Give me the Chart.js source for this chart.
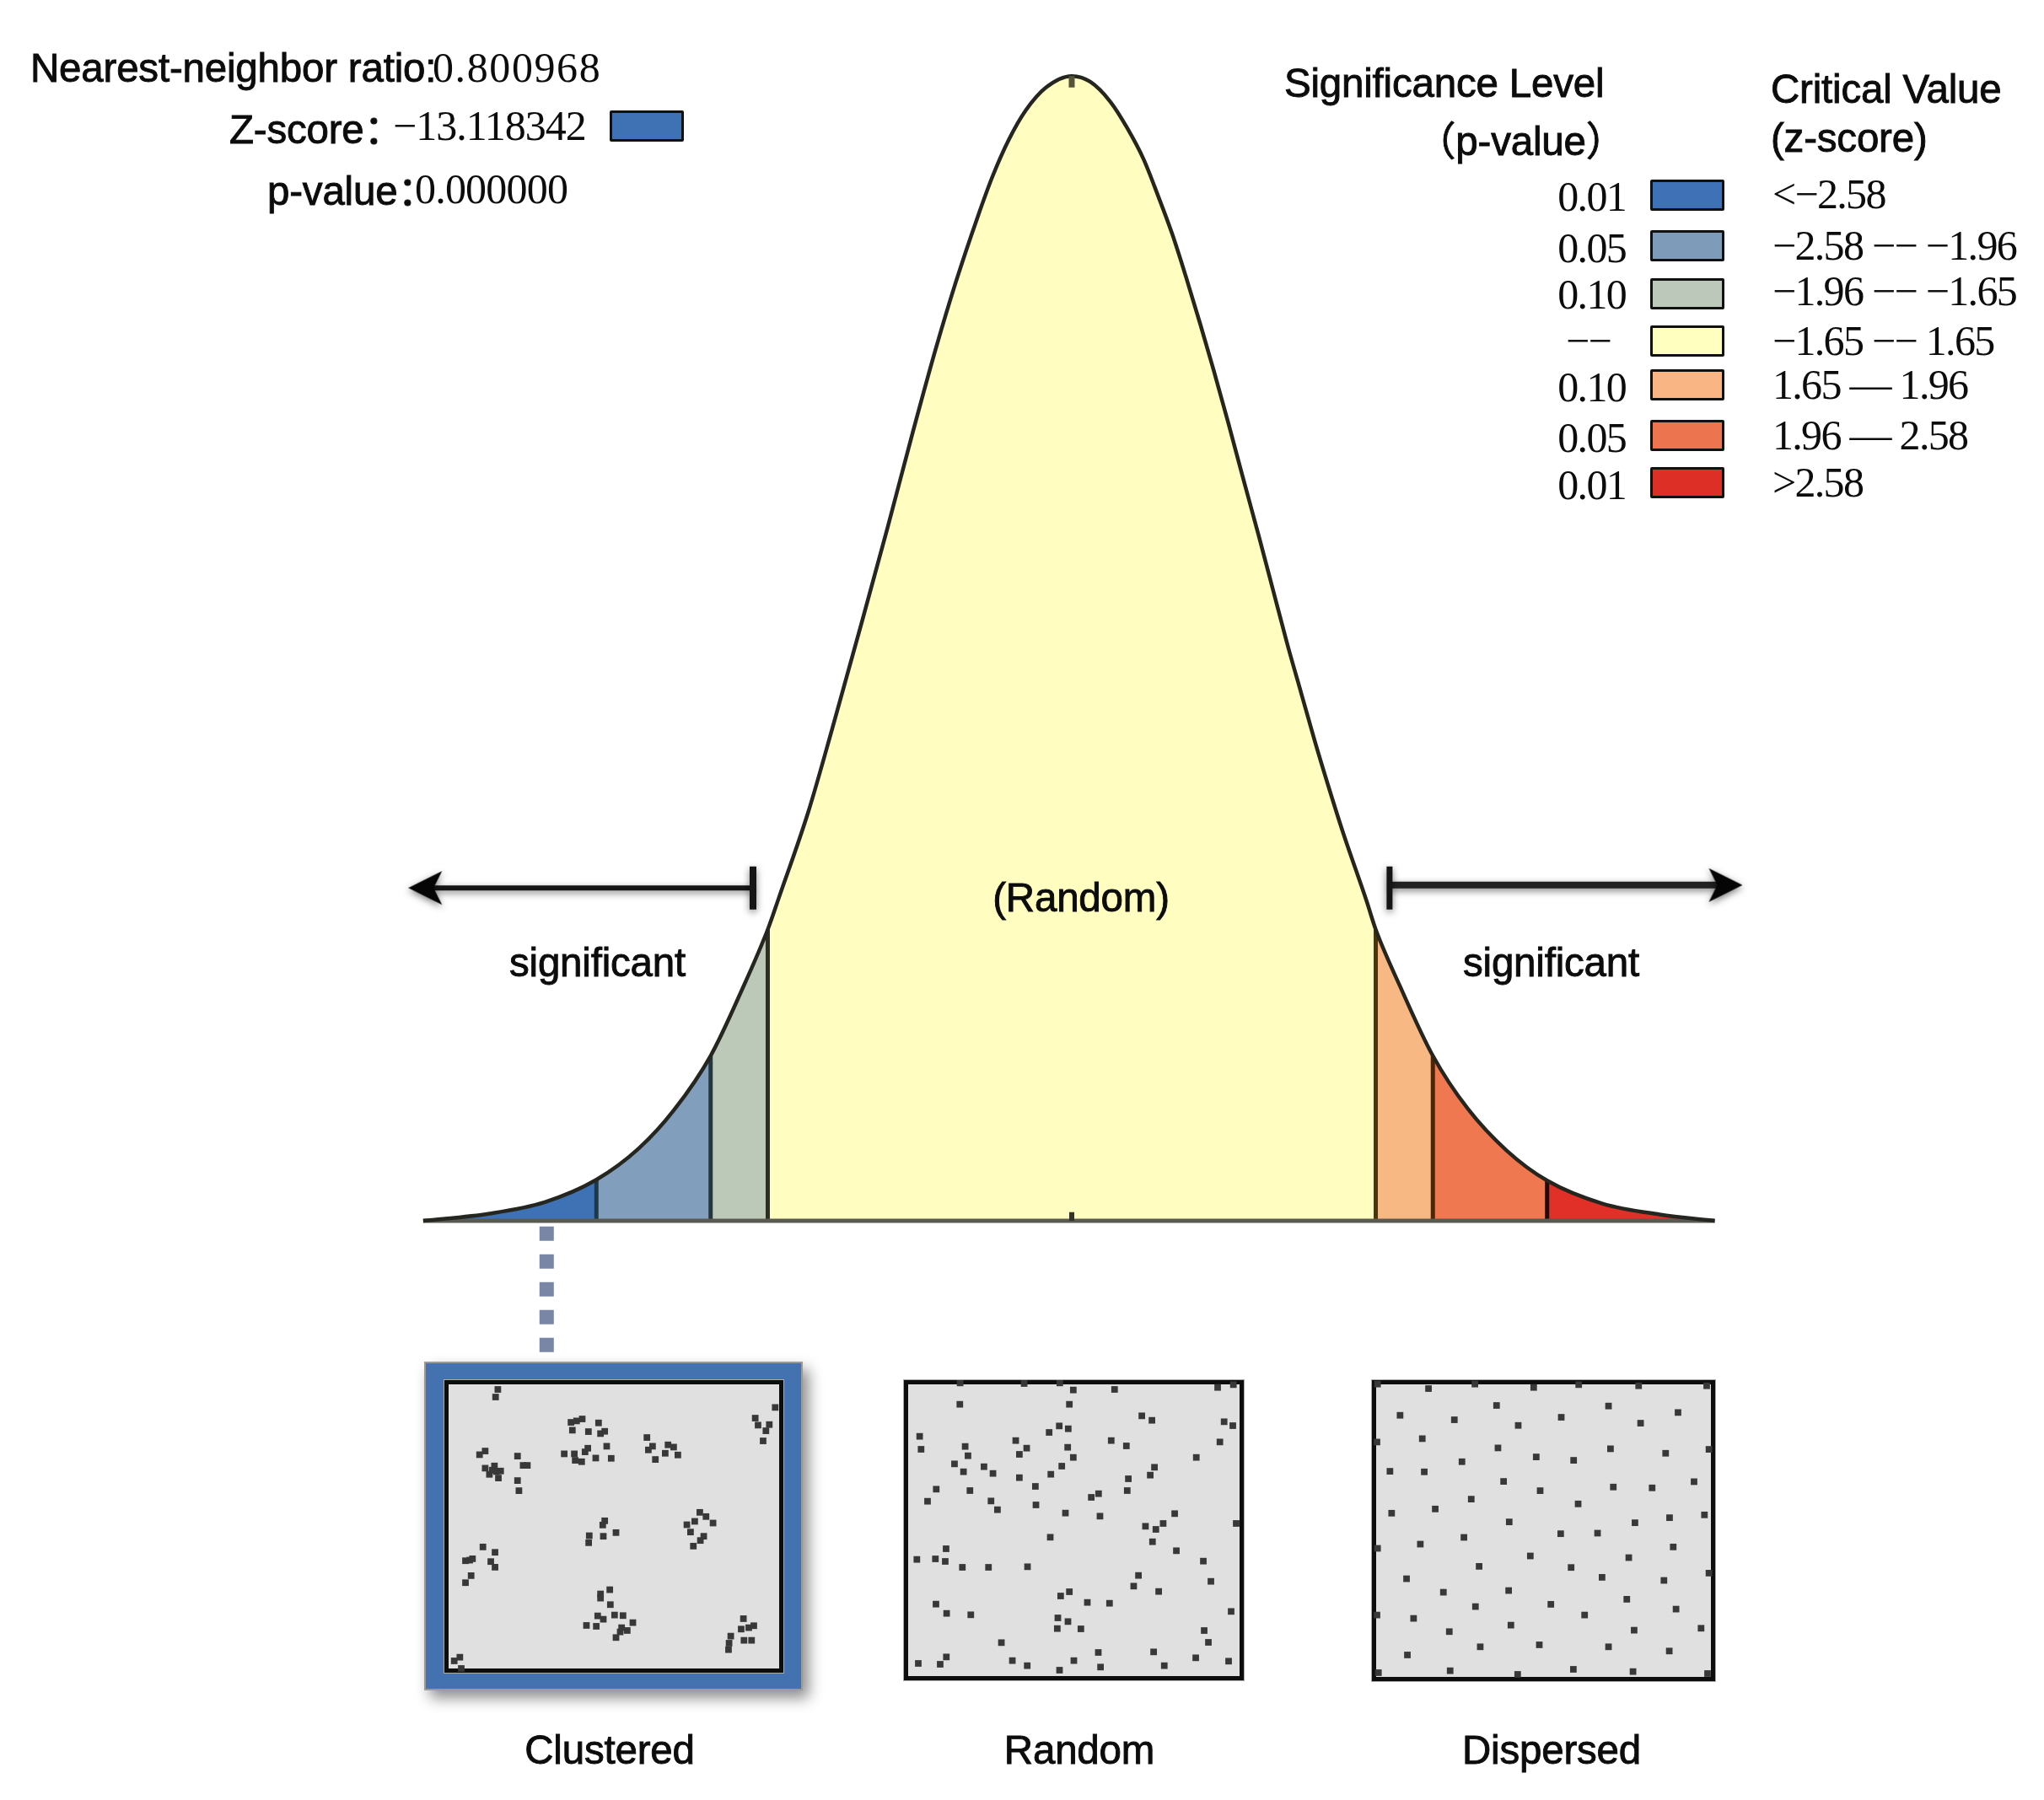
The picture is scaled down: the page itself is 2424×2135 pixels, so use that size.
<!DOCTYPE html>
<html>
<head>
<meta charset="utf-8">
<title>Average nearest neighbor</title>
<script src="https://cdn.jsdelivr.net/npm/chart.js@4.4.1/dist/chart.umd.min.js"></script>
<style>
  html, body { margin: 0; background: #fff; }
  #page { position: relative; width: 2424px; height: 2135px; overflow: hidden; }
  #page > canvas, .frame, .panelCanvas { position: absolute; }
  .t { position: absolute; white-space: nowrap; transform: translateY(-50%); color: #0c0c0c; line-height: 1; }
  .sans { font: 47.5px "Liberation Sans", "Noto Sans CJK SC", sans-serif; -webkit-text-stroke: .9px #0c0c0c; letter-spacing: -.2px; }
  .serif { font: 50px "Liberation Serif", serif; letter-spacing: -1.7px; }
  .center { transform: translate(-50%, -50%); }
  .right { transform: translate(-100%, -50%); }
  .swatch { position: absolute; box-sizing: border-box; border: 3.5px solid #111; width: 88px; height: 37px; border-radius: 2px; }
  .frame { box-sizing: border-box; background: #e0e0e0; border: 5px solid #0d0d0d; outline: 1.5px solid #aaa; filter: blur(.5px); }
  .panelCanvas { filter: blur(.7px); }
  #clusterBox { position: absolute; left: 503px; top: 1615px; width: 449px; height: 390px; box-sizing: border-box;
    background: #4472b0; border: 2px solid #9a9a9a; box-shadow: 7px 9px 16px rgba(0,0,0,.45); }
</style>
</head>
<body>
<div id="page">
  <canvas id="curveChart" width="2424" height="2135" style="left:0;top:0"></canvas>

  <div class="t sans" style="left:36px;top:80px">Nearest-neighbor ratio:</div>
  <div class="t serif" style="left:513px;top:80px;letter-spacing:1.6px">0.800968</div>
  <div class="t sans" style="left:272px;top:149px">Z-score：</div>
  <div class="t serif" style="left:466px;top:149px;letter-spacing:-1px">−13.118342</div>
  <div class="swatch" style="left:723px;top:131px;background:#3f72b5"></div>
  <div class="t sans" style="left:317px;top:222px">p-value：</div>
  <div class="t serif" style="left:492px;top:224px;letter-spacing:-.8px">0.000000</div>

  <div class="t sans" style="left:1523px;top:98px">Significance Level</div>
  <div class="t sans right" style="left:1928px;top:163px">（p-value）</div>
  <div class="t sans" style="left:2100px;top:105px">Critical Value</div>
  <div class="t sans" style="left:2100px;top:163px">(z-score)</div>

  <div class="t sans center" style="left:1282px;top:1064px">(Random)</div>
  <div class="t sans" style="left:604px;top:1141px">significant</div>
  <div class="t sans" style="left:1735px;top:1141px">significant</div>

  <div id="clusterBox"></div>
  <div class="frame" style="left:527px;top:1637px;width:402px;height:347px"></div>
  <canvas class="panelCanvas" id="clusteredChart" width="402" height="347" style="left:527px;top:1637px"></canvas>
  <div class="frame" style="left:1072px;top:1637px;width:403px;height:356px"></div>
  <canvas class="panelCanvas" id="randomChart" width="403" height="356" style="left:1072px;top:1637px"></canvas>
  <div class="frame" style="left:1627px;top:1637px;width:407px;height:357px"></div>
  <canvas class="panelCanvas" id="dispersedChart" width="407" height="357" style="left:1627px;top:1637px"></canvas>

  <div class="t sans center" style="left:723px;top:2075px">Clustered</div>
  <div class="t sans center" style="left:1280px;top:2075px">Random</div>
  <div class="t sans center" style="left:1840px;top:2075px">Dispersed</div>
</div>

<script>
// Curve: z-score and height in density units
var curveZ = [-3.52, -3.16, -2.86, -2.58, -2.35, -2.16, -1.96, -1.79, -1.65, -1.59, -1.43, -1.30, -1.14, -1.00, -0.86, -0.74,
  -0.63, -0.51, -0.43, -0.34, -0.25, -0.14, 0, 0.10, 0.21, 0.30, 0.39, 0.47, 0.545, 0.62, 0.70, 0.77, 0.85, 0.925, 1.016,
  1.094, 1.17, 1.245, 1.32, 1.40, 1.474, 1.60, 1.65, 1.78, 1.96, 2.15, 2.36, 2.58, 2.88, 3.19, 3.49];
var curveDensity = [0, 0.0025, 0.0065, 0.0143, 0.0252, 0.0385, 0.0575, 0.0805, 0.1015, 0.1125, 0.1425, 0.1715, 0.2085, 0.2415, 0.2755, 0.3035,
  0.3270, 0.3500, 0.3640, 0.3770, 0.3870, 0.3950, 0.3990, 0.3970, 0.3900, 0.3810, 0.3700, 0.3570, 0.3440, 0.3290, 0.3120, 0.2965, 0.2780, 0.2600, 0.2385,
  0.2195, 0.2010, 0.1840, 0.1670, 0.1500, 0.1350, 0.1115, 0.1015, 0.0820, 0.0575, 0.0390, 0.0245, 0.0140, 0.0060, 0.0022, 0];

// Critical z-scores and the bands between them
var bandEdges = [-3.52, -2.58, -1.96, -1.65, 1.65, 1.96, 2.58, 3.49];
var bandColors = ['#3f72b5', '#829ebd', '#bcc9b9', '#fffdbf', '#f7b883', '#ef7850', '#e03028'];
var edgeColors = ['#1d3a44', '#25363d', '#2b2f20', '#4a3410', '#4a2608', '#260806'];

// Legend
var pValueLabels = ['0.01', '0.05', '0.10', '−−', '0.10', '0.05', '0.01'];
var zScoreLabels = ['<−2.58', '−2.58 −− −1.96', '−1.96 −− −1.65', '−1.65 −− 1.65', '1.65 — 1.96', '1.96 — 2.58', '>2.58'];
var legendColors = ['#3e71b5', '#7f9bba', '#bcc8ba', '#ffffc0', '#f9b584', '#ec744f', '#de2f27'];

// Arrows either side of the curve
var leftArrowZ = [-3.50, -1.73];
var rightArrowZ = [1.725, 3.54];
var leftArrowY = 0.116;
var rightArrowY = 0.117;

// Dots of the three pattern panels
var clusteredDots = [[330,143],[322,170],[590,260],[610,255],[630,248],[595,288],[688,262],[652,293],[695,300],[710,292],
  [1316,207],[1245,245],[1255,270],[1295,268],[1283,290],[1273,326],[860,314],[880,345],[865,358],[890,392],[935,340],[955,348],[925,370],[970,376],
  [717,345],[650,352],[640,365],[566,372],[602,372],[605,395],[628,400],[678,387],[733,388],[265,375],[285,362],[400,380],[420,413],[435,413],
  [285,423],[300,445],[318,415],[325,435],[340,433],[332,458],[310,430],[400,467],[405,503],[710,610],[703,625],[750,652],[705,665],[655,663],[653,688],
  [1048,580],[1070,595],[1095,618],[1030,612],[1002,624],[1015,650],[1062,665],[1050,680],[1025,700],[277,703],[320,722],[240,745],[215,752],[230,750],
  [305,755],[320,775],[235,805],[215,830],[728,855],[695,870],[695,885],[730,908],[685,948],[705,960],[745,945],[775,947],[645,982],[680,985],[810,972],
  [770,990],[790,1000],[765,1005],[750,1025],[1203,958],[1240,983],[1222,990],[1195,995],[1158,1020],[1205,1035],[1232,1035],[1152,1045],[1150,1068],
  [195,1095],[175,1108],[200,1135]];
var randomDots = [[265,62],[493,64],[620,62],[668,87],[815,85],[1182,78],[1238,68],[264,138],[654,138],[912,179],[948,195],[1205,200],[1236,214],
  [121,252],[126,298],[283,288],[293,321],[245,350],[277,378],[350,360],[382,384],[463,267],[502,294],[476,316],[582,238],[618,215],[650,225],[648,291],
  [668,327],[627,358],[588,387],[476,399],[533,430],[803,267],[857,286],[1190,272],[1106,327],[957,362],[942,390],[864,403],[860,445],[758,456],[732,469],
  [180,440],[300,445],[149,483],[375,482],[398,513],[535,496],[640,525],[763,536],[1029,527],[1248,562],[988,562],[962,583],[925,572],[950,627],[586,611],
  [1035,659],[1131,696],[215,652],[111,690],[177,688],[212,697],[273,718],[366,718],[505,716],[900,747],[883,785],[1158,768],[972,804],[654,805],[623,820],
  [718,843],[797,846],[179,849],[217,882],[303,887],[1230,875],[613,898],[649,911],[611,936],[695,937],[1134,943],[1149,985],[412,986],[954,1019],[757,1021],
  [216,1037],[116,1060],[194,1063],[451,1050],[670,1050],[504,1068],[765,1073],[992,1068],[1104,1040],[1221,1052],[619,1084]];
var dispersedDots = [[42,66],[223,82],[388,66],[597,78],[757,68],[970,72],[1212,72],[465,142],[863,144],[1110,167],[122,177],[315,193],[542,213],[695,184],[977,205],
  [201,260],[40,272],[470,293],[870,296],[1066,312],[1220,298],[606,325],[739,337],[342,342],[86,376],[208,378],[490,412],[620,445],[880,432],[1018,435],[1167,413],
  [375,475],[247,510],[92,525],[755,492],[510,556],[957,559],[1080,541],[1204,531],[693,598],[824,596],[349,611],[194,635],[42,650],[1093,645],[585,677],[935,683],
  [403,714],[730,718],[145,758],[840,753],[1060,764],[1220,738],[276,806],[508,800],[928,831],[390,857],[658,849],[778,887],[1103,866],[170,899],[40,887],[516,923],
  [297,946],[954,941],[1192,934],[148,1029],[407,1000],[617,993],[863,1000],[1079,1015],[45,1092],[300,1085],[540,1098],[738,1080],[950,1088],[1215,1095]];

(function () {
    var page = document.getElementById('page');

    // Legend rows, one vertical position per row
    var swatchTops = [213, 273, 330, 386, 438, 498, 554];
    var pValueMiddles = [233, 294, 349, 404, 459, 519, 575];
    var zScoreMiddles = [230, 291, 345, 404, 456, 516, 572];
    pValueLabels.forEach(function (label, i) {
        var left = document.createElement('div');
        left.className = 't serif right';
        left.style.left = (i === 3 ? 1910 : 1928) + 'px';
        left.style.top = pValueMiddles[i] + 'px';
        left.textContent = label;
        page.appendChild(left);

        var box = document.createElement('div');
        box.className = 'swatch';
        box.style.left = '1957px';
        box.style.top = swatchTops[i] + 'px';
        box.style.background = legendColors[i];
        page.appendChild(box);

        var right = document.createElement('div');
        right.className = 't serif';
        right.style.left = '2102px';
        right.style.top = zScoreMiddles[i] + 'px';
        right.textContent = zScoreLabels[i];
        page.appendChild(right);
    });

    // Barbed arrow head used as point image
    var head = document.createElement('canvas');
    head.width = 44;
    head.height = 44;
    var hc = head.getContext('2d');
    hc.fillStyle = '#050505';
    hc.beginPath();
    hc.moveTo(44, 22);
    hc.lineTo(4, 2);
    hc.lineTo(14, 22);
    hc.lineTo(4, 42);
    hc.closePath();
    hc.fill();

    // Soft shadow under the arrows
    var shadowPlugin = {
        id: 'arrowShadow',
        beforeDatasetDraw: function (chart, args) {
            if (chart.data.datasets[args.index].arrowPart) {
                chart.ctx.save();
                chart.ctx.shadowColor = 'rgba(0,0,0,.5)';
                chart.ctx.shadowBlur = 9;
                chart.ctx.shadowOffsetY = 3;
            }
        },
        afterDatasetDraw: function (chart, args) {
            if (chart.data.datasets[args.index].arrowPart) {
                chart.ctx.restore();
            }
        }
    };

    var datasets = [];
    var curvePoints = curveZ.map(function (z, i) { return { x: z, y: curveDensity[i] }; });

    // Coloured bands under the curve
    bandColors.forEach(function (color, i) {
        datasets.push({
            data: curvePoints.filter(function (p) { return p.x >= bandEdges[i] && p.x <= bandEdges[i + 1]; }),
            showLine: true, fill: 'origin', backgroundColor: color, borderWidth: 0, pointRadius: 0,
            cubicInterpolationMode: 'monotone'
        });
    });

    // Band separators
    bandEdges.slice(1, -1).forEach(function (z, i) {
        var top = curvePoints.filter(function (p) { return p.x === z; })[0];
        datasets.push({
            data: [{ x: z, y: 0 }, { x: z, y: top.y }],
            showLine: true, borderColor: edgeColors[i], borderWidth: 5, pointRadius: 0
        });
    });

    // Baseline, curve outline and the two small ticks on the centre line
    datasets.push({
        data: [{ x: bandEdges[0], y: 0 }, { x: bandEdges[bandEdges.length - 1], y: 0 }],
        showLine: true, borderColor: '#5a5a52', borderWidth: 5, pointRadius: 0
    });
    datasets.push({
        data: curvePoints, showLine: true, borderColor: '#262620', borderWidth: 4.5, pointRadius: 0,
        cubicInterpolationMode: 'monotone'
    });
    datasets.push({
        data: [{ x: 0, y: 0.399 }, { x: 0, y: 0.395 }],
        showLine: true, borderColor: '#55533a', borderWidth: 7, pointRadius: 0
    });
    datasets.push({
        data: [{ x: 0, y: 0.003 }, { x: 0, y: 0 }],
        showLine: true, borderColor: '#33332a', borderWidth: 6, pointRadius: 0
    });

    // Dotted connector from the blue tail down to the clustered panel
    datasets.push({
        data: [{ x: -2.85, y: -0.002 }, { x: -2.85, y: -0.048 }],
        showLine: true, borderColor: '#7a86a6', borderWidth: 17, borderDash: [17, 16], pointRadius: 0
    });

    // Arrows: shaft, end bar, head
    datasets.push({
        data: [{ x: leftArrowZ[0], y: leftArrowY }, { x: leftArrowZ[1], y: leftArrowY }],
        arrowPart: true, showLine: true, borderColor: '#151515', borderWidth: 6, pointRadius: 0
    });
    datasets.push({
        data: [{ x: leftArrowZ[1], y: 0.1235 }, { x: leftArrowZ[1], y: 0.1085 }],
        arrowPart: true, showLine: true, borderColor: '#151515', borderWidth: 8, pointRadius: 0
    });
    datasets.push({
        data: [{ x: leftArrowZ[0], y: leftArrowY }],
        arrowPart: true, pointStyle: head, rotation: 180, pointRadius: 22
    });
    datasets.push({
        data: [{ x: rightArrowZ[0], y: rightArrowY }, { x: rightArrowZ[1], y: rightArrowY }],
        arrowPart: true, showLine: true, borderColor: '#222', borderWidth: 8, pointRadius: 0
    });
    datasets.push({
        data: [{ x: rightArrowZ[0], y: 0.1235 }, { x: rightArrowZ[0], y: 0.1085 }],
        arrowPart: true, showLine: true, borderColor: '#151515', borderWidth: 7, pointRadius: 0
    });
    datasets.push({
        data: [{ x: rightArrowZ[1], y: rightArrowY }],
        arrowPart: true, pointStyle: head, rotation: 0, pointRadius: 22
    });

    // Chart.js paints the first dataset last, bands have to end up underneath
    datasets.reverse();

    new Chart(document.getElementById('curveChart'), {
        type: 'scatter',
        data: { datasets: datasets },
        plugins: [shadowPlugin],
        options: {
            responsive: false, animation: false, devicePixelRatio: 1,
            layout: { padding: 0, autoPadding: false },
            plugins: { legend: { display: false }, tooltip: { enabled: false } },
            scales: {
                x: { type: 'linear', display: false, min: -5.817, max: 5.277 },
                y: { type: 'linear', display: false, min: -0.2019, max: 0.4255 }
            }
        }
    });

    // Pattern panels, scale limits are the frame edges in the units of the dots
    function drawPanel(id, dots, xRange, yRange) {
        new Chart(document.getElementById(id), {
            type: 'scatter',
            data: {
                datasets: [{
                    data: dots.map(function (d) { return { x: d[0], y: d[1] }; }),
                    pointStyle: 'rect', pointRadius: 5.5, borderWidth: 0, backgroundColor: '#383838'
                }]
            },
            options: {
                responsive: false, animation: false, devicePixelRatio: 1,
                layout: { padding: 0, autoPadding: false },
                plugins: { legend: { display: false }, tooltip: { enabled: false } },
                scales: {
                    x: { type: 'linear', display: false, min: xRange[0], max: xRange[1] },
                    y: { type: 'linear', display: false, reverse: true, min: yRange[0], max: yRange[1] }
                }
            }
        });
    }
    drawPanel('clusteredChart', clusteredDots, [140, 1345], [110, 1150]);
    drawPanel('randomChart', randomDots, [65, 1275], [52, 1120]);
    drawPanel('dispersedChart', dispersedDots, [22, 1242], [52, 1122]);
})();
</script>
</body>
</html>
